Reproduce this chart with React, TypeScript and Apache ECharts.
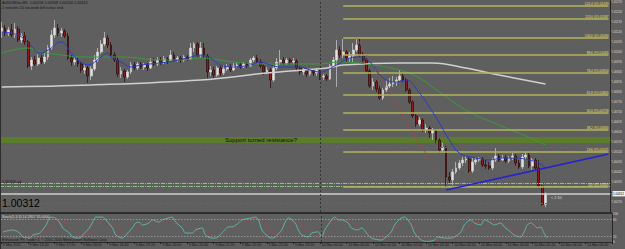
import React, { useEffect, useRef } from "react";
import * as echarts from "echarts";

// [open, close, low, high]
const candles: number[][] = [
  [1.0112, 1.0114, 1.0109, 1.0117],
  [1.0114, 1.01115, 1.011, 1.01155],
  [1.01115, 1.0113, 1.011, 1.01145],
  [1.0113, 1.01105, 1.01095, 1.0116],
  [1.01105, 1.01135, 1.0109, 1.01165],
  [1.01135, 1.0108, 1.0107, 1.0115],
  [1.0108, 1.011, 1.01065, 1.01115],
  [1.011, 1.0107, 1.01055, 1.0112],
  [1.0107, 1.0095, 1.0094, 1.0108],
  [1.0095, 1.0098, 1.0093, 1.00995],
  [1.0098, 1.0096, 1.0095, 1.01],
  [1.0096, 1.0099, 1.0095, 1.0101],
  [1.0099, 1.0097, 1.0096, 1.01005],
  [1.0097, 1.00995, 1.0096, 1.01015],
  [1.00995, 1.0104, 1.0098, 1.01055],
  [1.0104, 1.01105, 1.0103, 1.0113],
  [1.01105, 1.0114, 1.0109, 1.0118],
  [1.0114, 1.01115, 1.011, 1.0116],
  [1.01115, 1.01125, 1.01095, 1.0114],
  [1.01125, 1.011, 1.0109, 1.01135],
  [1.011, 1.0099, 1.0098, 1.01115],
  [1.0099, 1.0097, 1.0095, 1.01005],
  [1.0097, 1.0098, 1.00955, 1.00995],
  [1.0098, 1.0096, 1.00945, 1.0099],
  [1.0096, 1.0093, 1.00915, 1.0097],
  [1.0093, 1.0094, 1.0091, 1.0096],
  [1.0094, 1.009, 1.00865, 1.0095],
  [1.009, 1.00935, 1.0088, 1.0095],
  [1.00935, 1.0098, 1.00925, 1.01005],
  [1.0098, 1.0102, 1.0097, 1.0104],
  [1.0102, 1.0106, 1.0101, 1.0108],
  [1.0106, 1.0109, 1.0105, 1.0112],
  [1.0109, 1.01055, 1.0104, 1.01105],
  [1.01055, 1.01005, 1.00995, 1.0107],
  [1.01005, 1.0098, 1.0097, 1.0102],
  [1.0098, 1.0091, 1.00895, 1.00995],
  [1.0091, 1.00925, 1.0089, 1.00945],
  [1.00925, 1.00895, 1.0087, 1.00935],
  [1.00895, 1.0092, 1.00885, 1.0093],
  [1.0092, 1.00955, 1.0091, 1.0097],
  [1.00955, 1.0094, 1.0093, 1.0097],
  [1.0094, 1.0096, 1.0093, 1.0097],
  [1.0096, 1.00945, 1.00935, 1.0097],
  [1.00945, 1.00955, 1.0093, 1.00965],
  [1.00955, 1.0094, 1.00925, 1.00965],
  [1.0094, 1.0097, 1.00935, 1.0099],
  [1.0097, 1.0096, 1.0095, 1.0099],
  [1.0096, 1.0098, 1.0095, 1.00995],
  [1.0098, 1.0097, 1.00955, 1.00995],
  [1.0097, 1.00985, 1.0096, 1.01],
  [1.00985, 1.00975, 1.0096, 1.00995],
  [1.00975, 1.01005, 1.0097, 1.0103],
  [1.01005, 1.0098, 1.0097, 1.0102],
  [1.0098, 1.0099, 1.0097, 1.01],
  [1.0099, 1.0098, 1.00965, 1.01],
  [1.0098, 1.00995, 1.0097, 1.01005],
  [1.00995, 1.00985, 1.00975, 1.01005],
  [1.00985, 1.0104, 1.0098, 1.01065],
  [1.0104, 1.0106, 1.0102, 1.0107],
  [1.0106, 1.01005, 1.00995, 1.0107],
  [1.01005, 1.0104, 1.0099, 1.0107],
  [1.0104, 1.01, 1.0099, 1.01065],
  [1.01, 1.0092, 1.0089, 1.0101],
  [1.0092, 1.0093, 1.009, 1.0095],
  [1.0093, 1.00905, 1.0089, 1.00945],
  [1.00905, 1.0094, 1.00895, 1.0095],
  [1.0094, 1.00915, 1.009, 1.0095],
  [1.00915, 1.00935, 1.00905, 1.00955],
  [1.00935, 1.00945, 1.00925, 1.0096],
  [1.00945, 1.0093, 1.0092, 1.0096],
  [1.0093, 1.0095, 1.00925, 1.00965],
  [1.0095, 1.00955, 1.0094, 1.0097],
  [1.00955, 1.00945, 1.00935, 1.0097],
  [1.00945, 1.0096, 1.0094, 1.0097],
  [1.0096, 1.0095, 1.0094, 1.0097],
  [1.0095, 1.0098, 1.00945, 1.0099],
  [1.0098, 1.0099, 1.0097, 1.01],
  [1.0099, 1.0097, 1.0096, 1.01005],
  [1.0097, 1.0095, 1.0094, 1.00985],
  [1.0095, 1.0092, 1.00905, 1.0096],
  [1.0092, 1.0093, 1.0091, 1.00945],
  [1.0093, 1.0088, 1.0084, 1.0094],
  [1.0088, 1.0094, 1.0087, 1.0095],
  [1.0094, 1.0097, 1.0093, 1.0099],
  [1.0097, 1.0098, 1.00955, 1.0103],
  [1.0098, 1.00965, 1.00955, 1.00995],
  [1.00965, 1.0098, 1.00955, 1.0099],
  [1.0098, 1.0097, 1.00955, 1.0099],
  [1.0097, 1.00975, 1.0096, 1.0099],
  [1.00975, 1.0094, 1.0093, 1.00985],
  [1.0094, 1.0092, 1.00905, 1.0095],
  [1.0092, 1.0093, 1.00905, 1.0094],
  [1.0093, 1.0091, 1.00895, 1.0094],
  [1.0091, 1.00925, 1.009, 1.00935],
  [1.00925, 1.00915, 1.009, 1.0094],
  [1.00915, 1.0093, 1.009, 1.0094],
  [1.0093, 1.00895, 1.0088, 1.00935],
  [1.00895, 1.009, 1.0088, 1.0091],
  [1.009, 1.00885, 1.00875, 1.0091],
  [1.00885, 1.0095, 1.0088, 1.0096],
  [1.0095, 1.0098, 1.0094, 1.00995],
  [1.0098, 1.0103, 1.00845, 1.0108],
  [1.0103, 1.01005, 1.0099, 1.0105],
  [1.01005, 1.0102, 1.0099, 1.01085],
  [1.0102, 1.0099, 1.0097, 1.0103],
  [1.0099, 1.01, 1.0097, 1.0102],
  [1.01, 1.0103, 1.0097, 1.01065],
  [1.0103, 1.01055, 1.0102, 1.0109],
  [1.01055, 1.01005, 1.00995, 1.0109],
  [1.01005, 1.0098, 1.0097, 1.0102],
  [1.0098, 1.00925, 1.00915, 1.0099],
  [1.00925, 1.0085, 1.0084, 1.00935],
  [1.0085, 1.0087, 1.0083, 1.0089],
  [1.0087, 1.00835, 1.0082, 1.0088],
  [1.00835, 1.0079, 1.0078, 1.0085],
  [1.0079, 1.0083, 1.0078, 1.0084],
  [1.0083, 1.0085, 1.0082, 1.0088],
  [1.0085, 1.0086, 1.0084, 1.0089],
  [1.0086, 1.0087, 1.00845, 1.009],
  [1.0087, 1.0088, 1.0085, 1.00895],
  [1.0088, 1.009, 1.0087, 1.0093],
  [1.009, 1.0088, 1.0087, 1.00915],
  [1.0088, 1.0083, 1.0082, 1.0089],
  [1.0083, 1.0077, 1.0076, 1.0084],
  [1.0077, 1.007, 1.0069, 1.0078],
  [1.007, 1.0066, 1.00645, 1.0071],
  [1.0066, 1.0068, 1.0065, 1.00695],
  [1.0068, 1.0063, 1.0062, 1.0069],
  [1.0063, 1.0064, 1.00615, 1.0066],
  [1.0064, 1.00615, 1.0059, 1.0065],
  [1.00615, 1.0063, 1.0058, 1.0064],
  [1.0063, 1.0058, 1.00565, 1.00635],
  [1.0058, 1.0053, 1.00515, 1.0059],
  [1.0053, 1.00545, 1.0052, 1.00565],
  [1.00545, 1.00395, 1.00345, 1.0055],
  [1.00395, 1.0038, 1.00365, 1.0042],
  [1.0038, 1.0042, 1.00355, 1.00435],
  [1.0042, 1.0044, 1.0041, 1.0047],
  [1.0044, 1.00465, 1.0043, 1.0048],
  [1.00465, 1.0048, 1.0045, 1.00495],
  [1.0048, 1.00485, 1.00465, 1.005],
  [1.00485, 1.00425, 1.00415, 1.00495],
  [1.00425, 1.0047, 1.00415, 1.0049],
  [1.0047, 1.0048, 1.00455, 1.00495],
  [1.0048, 1.00485, 1.0047, 1.00495],
  [1.00485, 1.00455, 1.00445, 1.00495],
  [1.00455, 1.0045, 1.00435, 1.0048],
  [1.0045, 1.0044, 1.0043, 1.0047],
  [1.0044, 1.0048, 1.0043, 1.0049],
  [1.0048, 1.005, 1.0047, 1.0054],
  [1.005, 1.0048, 1.0047, 1.0051],
  [1.0048, 1.0049, 1.00475, 1.00505],
  [1.0049, 1.00475, 1.00465, 1.00505],
  [1.00475, 1.0049, 1.00465, 1.005],
  [1.0049, 1.005, 1.0048, 1.00515],
  [1.005, 1.00465, 1.0045, 1.0051],
  [1.00465, 1.00445, 1.00435, 1.0048],
  [1.00445, 1.00495, 1.00435, 1.0051],
  [1.00495, 1.00505, 1.0048, 1.0052],
  [1.00505, 1.0045, 1.0044, 1.00515],
  [1.0045, 1.0048, 1.0043, 1.0049],
  [1.0048, 1.0044, 1.0043, 1.0049],
  [1.0044, 1.0035, 1.0034, 1.0048],
  [1.0035, 1.00258, 1.00252, 1.00355],
  [1.00258, 1.00312, 1.00244, 1.00318],
];

const BAR_SLOTS = 184;
const SEPARATOR_BAR = 96;

const timeLabels = [
  "9 Mar 2011", "9 Mar 16:40", "9 Mar 17:20", "9 Mar 18:00", "9 Mar 18:40",
  "9 Mar 19:20", "9 Mar 20:00", "9 Mar 20:40", "9 Mar 21:20", "9 Mar 22:00",
  "9 Mar 22:40", "9 Mar 23:20", "10 Mar 00:00", "10 Mar 00:40", "10 Mar 01:20",
  "10 Mar 02:00", "10 Mar 02:40", "10 Mar 03:20", "10 Mar 04:00", "10 Mar 04:40",
  "10 Mar 05:20", "10 Mar 06:00", "10 Mar 06:40",
];

const fastMA = [
  [0, 1.0112], [5, 1.01105], [8, 1.01065], [12, 1.01015], [14, 1.0103], [18, 1.0107],
  [21, 1.01015], [23, 1.0098], [26, 1.00955], [30, 1.00995], [32, 1.01015], [33, 1.00995],
  [36, 1.0097], [39, 1.00945], [42, 1.00955], [50, 1.0097], [56, 1.0099], [60, 1.01005],
  [63, 1.0099], [66, 1.00955], [70, 1.00945], [75, 1.00955], [78, 1.0097], [81, 1.00955],
  [84, 1.00945], [90, 1.00945], [93, 1.0093], [96, 1.0092], [101, 1.00955], [105, 1.0099],
  [108, 1.00995], [111, 1.0097], [115, 1.0089], [119, 1.0087], [122, 1.0088], [126, 1.00815],
  [129, 1.00745], [132, 1.00665], [135, 1.0058], [138, 1.00515], [143, 1.0049], [147, 1.0048],
  [151, 1.0049], [155, 1.0049], [159, 1.0048], [162, 1.00465], [164, 1.0044],
];

const midMA = [
  [0, 1.01015], [8, 1.0104], [12, 1.0102], [18, 1.01005], [24, 1.00995], [36, 1.00995],
  [48, 1.0098], [54, 1.0098], [60, 1.0099], [70, 1.0097], [80, 1.0096], [95, 1.0096],
  [102, 1.0097], [110, 1.0096], [120, 1.0093], [126, 1.0089], [132, 1.0082], [141, 1.0072],
  [150, 1.00655], [158, 1.006], [164, 1.00555],
];

const slowMA = [
  [0, 1.00845], [27, 1.00855], [60, 1.0088], [80, 1.00915], [98, 1.0094], [103, 1.00955],
  [120, 1.00965], [130, 1.00965], [140, 1.0094], [150, 1.00905], [164, 1.0086],
];

const stochMain = [
  [0, 36], [3, 43], [5, 32], [6, 18], [8, 14], [9, 25], [11, 32], [13, 61], [14, 86], [15, 89],
  [17, 71], [18, 50], [20, 32], [21, 18], [23, 14], [24, 25], [26, 50], [27, 71], [28, 89],
  [30, 89], [31, 79], [33, 50], [34, 25], [36, 14], [37, 25], [39, 50], [40, 68], [41, 71],
  [42, 61], [44, 68], [45, 79], [47, 71], [48, 79], [50, 86], [51, 89], [52, 71], [54, 50],
  [55, 32], [57, 32], [58, 43], [60, 50], [61, 25], [63, 14], [64, 14], [66, 32], [68, 54],
  [69, 54], [71, 68], [72, 79], [75, 86], [76, 89], [77, 79], [78, 43], [80, 18], [81, 14],
  [82, 18], [84, 43], [85, 71], [86, 86], [88, 68], [89, 43], [90, 25], [92, 18], [93, 32],
  [95, 36], [96, 18], [97, 43], [99, 79], [100, 89], [101, 79], [102, 79], [104, 68], [105, 50],
  [107, 43], [108, 50], [110, 25], [111, 14], [114, 7], [115, 14], [117, 36], [118, 61],
  [120, 86], [121, 89], [123, 61], [124, 32], [126, 7], [128, 2], [130, 7], [131, 18],
  [133, 14], [135, 14], [136, 18], [138, 36], [139, 61], [141, 79], [142, 68], [144, 61],
  [145, 79], [147, 68], [148, 61], [150, 68], [151, 54], [153, 36], [154, 25], [156, 18],
  [157, 36], [158, 61], [159, 68], [160, 61], [161, 50], [162, 54], [163, 32], [164, 14],
];

const stochSignal = [
  [0, 40], [4, 38], [8, 20], [11, 22], [14, 50], [17, 80], [20, 55], [23, 25], [26, 30],
  [29, 70], [32, 80], [35, 45], [38, 25], [41, 55], [44, 66], [47, 72], [50, 78], [53, 80],
  [56, 50], [59, 38], [62, 35], [65, 20], [68, 40], [72, 62], [76, 82], [79, 70], [82, 28],
  [85, 40], [88, 75], [91, 48], [94, 28], [97, 30], [100, 70], [103, 82], [106, 60], [109, 42],
  [112, 22], [115, 12], [118, 40], [121, 80], [124, 55], [127, 18], [130, 5], [133, 12],
  [136, 15], [139, 40], [142, 70], [145, 68], [148, 68], [151, 62], [154, 40], [157, 25],
  [160, 55], [163, 45], [164, 35],
];

const fibRatios = ["0.0", "23.6", "38.2", "50.0", "61.8", "76.4", "88.6", "100.0", "113.0", "121.4"];
const fibPrices = [1.00345, 1.00521, 1.0063, 1.00718, 1.00805, 1.00914, 1.01005, 1.0109, 1.01187, 1.01249];
const fibStartBar = 103;
const fibEndBar = 183;
const fibDiagonal = [[107, 1.0109], [134, 1.00345]];
const trendLine = [[134, 1.0033], [183, 1.0051]];

const bandPrices = [1.00595, 1.00565];
const redDashPrices = [1.00545, 1.00265];
const greenDashPrices = [1.00365, 1.0035];
const bidPrice = 1.00312;

const FONT = "Liberation Sans, Arial, sans-serif";

export default function App() {
  const ref = useRef<HTMLDivElement>(null);
  useEffect(() => {
    if (!ref.current) return;
    const chart = echarts.init(ref.current, undefined, { renderer: "svg" });
    const cats = Array.from({ length: BAR_SLOTS }, (_, i) => String(i));
    const hline = (p: number, color: string, type: any, width = 1) => ({
      yAxis: p,
      lineStyle: { color, type, width },
    });
    const option: any = {
      animation: false,
      backgroundColor: "#5f5f5f",
      textStyle: { fontFamily: FONT },
      grid: [
        { left: 0, right: 13, top: 0, height: 212 },
        { left: 0, right: 13, top: 214, height: 28 },
      ],
      xAxis: [
        { type: "category", gridIndex: 0, data: cats, show: false },
        {
          type: "category",
          gridIndex: 1,
          data: cats,
          axisLine: { show: true, lineStyle: { color: "#2a2a2a" } },
          axisTick: { show: true, interval: 7, length: 2, lineStyle: { color: "#1e1e1e" } },
          axisLabel: {
            interval: 7,
            fontSize: 3.6,
            color: "#161616",
            margin: 1,
            align: "left",
            fontFamily: FONT,
            formatter: (_v: string, i: number) => timeLabels[Math.round(i / 8)] ?? "",
          },
          splitLine: { show: false },
        },
      ],
      yAxis: [
        {
          type: "value",
          gridIndex: 0,
          position: "right",
          min: 1.0022,
          max: 1.0128,
          interval: 0.0005,
          splitLine: { show: false },
          axisLine: { show: true, lineStyle: { color: "#262626" } },
          axisTick: { show: true, length: 1.5, lineStyle: { color: "#262626" } },
          axisLabel: {
            fontSize: 3,
            color: "#dcdcdc",
            margin: 1,
            fontFamily: FONT,
            showMaxLabel: false,
            showMinLabel: false,
            formatter: (v: number) => (Math.abs(v - bidPrice) < 0.0002 ? "" : v.toFixed(5)),
          },
        },
        {
          type: "value",
          gridIndex: 1,
          position: "right",
          min: 0,
          max: 100,
          interval: 20,
          splitLine: { show: false },
          axisLine: { show: true, lineStyle: { color: "#262626" } },
          axisTick: { show: false },
          axisLabel: {
            fontSize: 3,
            color: "#dcdcdc",
            margin: 1,
            fontFamily: FONT,
            formatter: (v: number) => (v === 40 || v === 60 ? "" : String(v)),
          },
        },
      ],
      series: [
        {
          type: "line",
          xAxisIndex: 0,
          yAxisIndex: 0,
          data: [],
          z: 1,
          silent: true,
          markArea: {
            silent: true,
            itemStyle: { color: "#5b7c2a", opacity: 1 },
            data: [[{ yAxis: bandPrices[0] }, { yAxis: bandPrices[1] }]],
          },
          markLine: {
            silent: true,
            precision: 6,
            symbol: ["none", "none"],
            label: { show: false },
            data: [
              ...redDashPrices.map((p) => hline(p, "#a84848", [3, 2], 1)),
              ...greenDashPrices.map((p) => hline(p, "#8cc48c", [4, 1, 1, 1], 1)),
              hline(bidPrice, "#cfcfcf", "solid", 1.6),
              { xAxis: SEPARATOR_BAR, lineStyle: { color: "#353535", type: [2, 2], width: 1 } },
            ],
          },
        },
        {
          type: "line",
          xAxisIndex: 0,
          yAxisIndex: 0,
          data: [],
          z: 2,
          silent: true,
          markLine: {
            silent: true,
            precision: 6,
            symbol: ["none", "none"],
            label: {
              show: true,
              position: "insideEndTop",
              distance: [0, 0.5],
              fontSize: 3.2,
              color: "#e8e86a",
              fontFamily: FONT,
            },
            lineStyle: { color: "#b4b45c", type: "solid", width: 1.6 },
            data: fibPrices.map((p, k) => [
              { coord: [fibStartBar, p], label: { formatter: `${fibRatios[k]} @${p.toFixed(5)}` } },
              { coord: [fibEndBar, p] },
            ]),
          },
        },
        {
          type: "candlestick",
          xAxisIndex: 0,
          yAxisIndex: 0,
          data: candles,
          z: 3,
          barWidth: 2.3,
          itemStyle: {
            color: "#e2e2e2",
            color0: "#8e1a1a",
            borderColor: "#d0d0d0",
            borderColor0: "#2a0808",
            borderWidth: 0.7,
          },
        },
        {
          type: "line",
          data: slowMA,
          smooth: 0.4,
          symbol: "none",
          z: 4,
          lineStyle: { color: "#d0d0d0", width: 1.5 },
        },
        {
          type: "line",
          data: midMA,
          smooth: 0.4,
          symbol: "none",
          z: 4,
          lineStyle: { color: "#3c9a3c", width: 1 },
        },
        {
          type: "line",
          data: fastMA,
          smooth: 0.4,
          symbol: "none",
          z: 5,
          lineStyle: { color: "#2a3cc8", width: 1 },
        },
        {
          type: "line",
          data: fibDiagonal,
          symbol: "none",
          z: 5,
          lineStyle: { color: "#b04444", width: 1, type: [2, 2] },
        },
        {
          type: "line",
          data: trendLine,
          symbol: "none",
          z: 6,
          lineStyle: { color: "#2424d0", width: 1.6 },
        },
        {
          type: "line",
          xAxisIndex: 1,
          yAxisIndex: 1,
          data: stochSignal,
          smooth: 0.3,
          symbol: "none",
          z: 3,
          lineStyle: { color: "#a84a4a", width: 1, type: [2, 2] },
          markLine: {
            silent: true,
            symbol: ["none", "none"],
            label: { show: false },
            data: [
              { yAxis: 80, lineStyle: { color: "#b0b0b0", type: [1, 2], width: 1 } },
              { yAxis: 20, lineStyle: { color: "#b0b0b0", type: [1, 2], width: 1 } },
              { xAxis: SEPARATOR_BAR, lineStyle: { color: "#353535", type: [2, 2], width: 1 } },
            ],
          },
        },
        {
          type: "line",
          xAxisIndex: 1,
          yAxisIndex: 1,
          data: stochMain,
          smooth: 0.3,
          symbol: "none",
          z: 4,
          lineStyle: { color: "#5fb4aa", width: 1 },
        },
      ],
      graphic: [
        { type: "line", shape: { x1: 0.5, y1: 0, x2: 0.5, y2: 249 }, style: { stroke: "#2e2e2e", lineWidth: 1 }, z: 10 },
        { type: "line", shape: { x1: 0, y1: 213, x2: 612, y2: 213 }, style: { stroke: "#1e1e1e", lineWidth: 1.6 }, z: 10 },
        {
          type: "text", x: 2, y: 1, z: 10,
          style: { text: "AUDUSDm,M5  1.00258 1.00318 1.00244 1.00312", fontSize: 3.8, fill: "#141414", fontFamily: FONT },
        },
        {
          type: "text", x: 2, y: 5.5, z: 10,
          style: { text: "2 minutes 10 seconds left to bar end", fontSize: 3.8, fill: "#141414", fontFamily: FONT },
        },
        {
          type: "text", x: 225, y: 140, z: 10,
          style: { text: "Support turned resistance?", fontSize: 6, fill: "#101010", fontFamily: FONT, verticalAlign: "middle" },
        },
        {
          type: "text", x: 2, y: 179.5, z: 10,
          style: { text: "1.00358,ad", fontSize: 3.8, fill: "#141414", fontFamily: FONT },
        },
        {
          type: "text", x: 2, y: 197.5, z: 10,
          style: { text: "1.00312", fontSize: 10.5, fill: "#000000", fontFamily: FONT },
        },
        {
          type: "text", x: 551, y: 195.5, z: 10,
          style: { text: "< 2:10", fontSize: 3.8, fill: "#dcdcdc", fontFamily: FONT },
        },
        {
          type: "rect", z: 10,
          shape: { x: 612.5, y: 191, width: 12.5, height: 5.4 },
          style: { fill: "#f0f0f0" },
        },
        {
          type: "text", x: 613, y: 193.7, z: 11,
          style: { text: "1.00312", fontSize: 3, fill: "#000000", fontFamily: FONT, verticalAlign: "middle" },
        },
        {
          type: "text", x: 2, y: 215, z: 10,
          style: { text: "Stoch(5,3,3) 14.2857 35.0000", fontSize: 3.6, fill: "#d8d8d8", fontFamily: FONT },
        },
        {
          type: "text", x: 2, y: 237.5, z: 10,
          style: { text: "Enhanced: FX Trader 4, © 2001-2010 MetaQuotes Software Corp.", fontSize: 3.6, fill: "#141414", fontFamily: FONT },
        },
      ],
    };
    chart.setOption(option);
    return () => chart.dispose();
  }, []);
  return (
    <div
      ref={ref}
      style={{ position: "fixed", left: 0, top: 0, width: 625, height: 249, background: "#5f5f5f" }}
    />
  );
}
